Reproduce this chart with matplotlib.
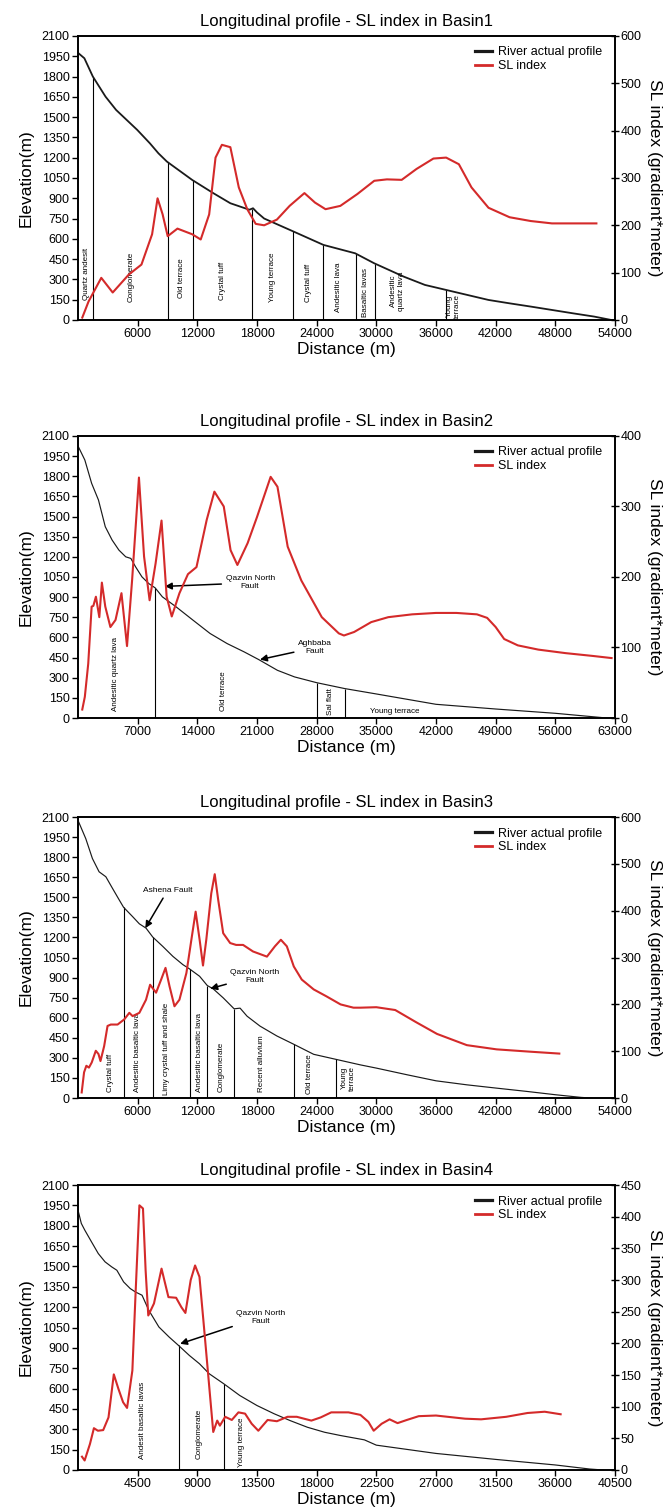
#!/usr/bin/env python3

import numpy as np
import matplotlib
matplotlib.use("Agg")
import matplotlib.pyplot as plt

plt.rcParams["font.family"] = ["Liberation Sans", "DejaVu Sans"]

RED = "#d42a2a"

# ---- Basin 1 ----
b1_dist = [0, 640, 1490, 2770, 3830, 5960, 7230, 8090, 8940, 11490, 13620, 15320,
           17230, 17600, 18000, 18720, 21700, 24680, 27870, 29790, 32770, 34890,
           37020, 39150, 41280, 43400, 45530, 47660, 49790, 51910, 53620]
b1_elev = [1975, 1935, 1800, 1651, 1553, 1405, 1306, 1232, 1171, 1035, 937, 863,
           815, 826, 795, 750, 653, 555, 493, 419, 320, 259,
           222, 185, 148, 123, 99, 74, 49, 25, 0]
b1_sl_x = [430, 1060, 2340, 3490, 5110, 6380, 7450, 8000, 8510, 9020, 10000, 11490,
           12340, 13190, 13830, 14470, 15320, 16170, 17020, 17870, 18720, 20000,
           21280, 22770, 23830, 24890, 26380, 28090, 29790, 31060, 32550, 34040,
           35740, 37020, 38300, 39570, 41280, 43400, 45530, 47660, 49790, 52130]
b1_sl = [5, 39, 89, 58, 96, 117, 181, 257, 223, 177, 193, 181,
         170, 223, 343, 370, 365, 280, 234, 203, 200, 212,
         241, 268, 248, 234, 241, 266, 294, 297, 296, 319,
         341, 343, 329, 280, 237, 217, 209, 204, 204, 204]
b1_bounds = [1490, 9020, 11570, 17530, 21620, 24600, 28000, 29870, 37020]
b1_rocks = ["Quartz andesit", "Conglomerate", "Old terrace", "Crystal tuff",
            "Young terrace", "Crystal tuff", "Andesitic lava", "Basaltic lavas",
            "Andesitic\nquartz lava", "Young\nterrace"]
b1_rock_x = [850, 5300, 10400, 14500, 19600, 23200, 26200, 28950, 32100, 37700]
b1_rock_y = [148, 135, 160, 148, 130, 130, 60, 25, 70, 10]
b1_rock_rot = [90] * 10

# ---- Basin 2 ----
b2_dist = [0, 800, 1600, 2400, 3200, 4000, 4800, 5600, 6200, 6750, 7500, 8300,
           9050, 9900, 11500, 13500, 15500, 17500, 19500, 21200, 23400, 25400,
           28000, 31300, 35000, 42000, 49000, 56000, 61500, 62500]
b2_elev = [2025, 1921, 1747, 1623, 1424, 1325, 1250, 1200, 1188, 1126, 1051, 1001,
           969, 902, 828, 728, 629, 554, 492, 435, 355, 306,
           263, 219, 179, 102, 67, 35, 3, 0]
b2_sl_x = [500, 800, 1200, 1600, 1800, 2100, 2500, 2800, 3200, 3800, 4400, 5100,
           5750, 6350, 7150, 7750, 8400, 9100, 9800, 10400, 11000, 11900, 12900,
           13900, 15100, 16000, 17100, 17900, 18700, 19900, 21000, 22600, 23400,
           24600, 26200, 28600, 30600, 31200, 32400, 34400, 36400, 39200, 42000,
           44400, 46800, 48000, 49000, 50000, 51600, 54000, 57200, 60400, 62600]
b2_sl = [12, 30, 77, 158, 159, 172, 143, 192, 158, 129, 139, 177,
         102, 196, 341, 229, 167, 219, 280, 172, 144, 177, 204,
         214, 281, 321, 300, 238, 217, 248, 285, 342, 328,
         243, 195, 143, 120, 117, 122, 136, 143, 147, 149,
         149, 147, 142, 129, 112, 103, 97, 92, 88, 85]
b2_bounds = [9050, 28000, 31300]
b2_rocks = ["Andesitic quartz lava", "Old terrace", "Sal flatt", "Young terrace"]
b2_rock_x = [4400, 17100, 29650, 37200]
b2_rock_y = [55, 55, 20, 45]
b2_rock_rot = [90, 90, 90, 0]
b2_faults = ["Qazvin North\nFault", "Aghbaba\nFault"]
b2_fault_tip = [(10200, 980), (21350, 435)]
b2_fault_txt = [(20200, 1006), (27800, 524)]

# ---- Basin 3 ----
b3_dist = [0, 780, 1450, 2120, 2800, 3470, 4150, 4580, 5490, 6170, 6840, 7520,
           8530, 9540, 10550, 11220, 12230, 13000, 13600, 14600, 15700, 16300,
           17000, 18300, 20000, 21700, 23700, 25900, 28400, 30000, 33100, 36000,
           39100, 42000, 45100, 48000, 50600, 51700]
b3_elev = [2075, 1939, 1790, 1691, 1654, 1567, 1480, 1426, 1356, 1302, 1270, 1203,
           1133, 1059, 997, 965, 910, 841, 816, 749, 667, 672,
           612, 538, 464, 402, 327, 290, 248, 224, 174, 129,
           99, 75, 50, 25, 5, 0]
b3_sl_x = [370, 610, 840, 1100, 1380, 1790, 2060, 2260, 2630, 2970, 3300, 3980,
           4650, 5160, 5490, 6170, 6840, 7250, 7850, 8360, 8800, 9200, 9700,
           10200, 10900, 11400, 11830, 12230, 12570, 12900, 13400, 13750, 14100,
           14600, 15300, 15900, 16600, 17600, 19000, 19800, 20400, 21000, 21700,
           22500, 23700, 25000, 26400, 27700, 28400, 30000, 31900, 34000, 36100,
           39100, 42100, 45500, 48400]
b3_sl = [12, 55, 69, 65, 76, 101, 94, 79, 111, 154, 157, 157,
         168, 182, 175, 182, 210, 242, 225, 253, 278, 239, 196,
         210, 267, 338, 398, 338, 283, 338, 437, 478, 423,
         352, 331, 327, 327, 313, 302, 324, 338, 324, 281,
         253, 232, 217, 200, 193, 193, 194, 188, 162, 137,
         113, 104, 99, 95]
b3_bounds = [4580, 7520, 11220, 13000, 15700, 21700, 25900]
b3_rocks = ["Crystal tuff", "Andesitic basaltic lava", "Limy crystal tuff and shale",
            "Andesitic basaltic lava", "Conglomerate", "Recent alluvium",
            "Old terrace", "Young\nterrace"]
b3_rock_x = [3300, 6000, 8860, 12170, 14400, 18500, 23300, 27200]
b3_rock_y = [42, 42, 20, 42, 42, 42, 30, 55]
b3_rock_rot = [90] * 8
b3_faults = ["Ashena Fault", "Qazvin North\nFault"]
b3_fault_tip = [(6770, 1270), (13300, 818)]
b3_fault_txt = [(9000, 1550), (17800, 910)]

# ---- Basin 4 ----
b4_dist = [0, 250, 510, 1020, 1530, 2040, 2540, 2930, 3440, 3940, 4330, 4830,
           5340, 6100, 6870, 7580, 8400, 9160, 9900, 11000, 12200, 13500, 14800,
           16000, 17300, 18600, 19800, 21600, 22500, 27000, 31500, 36000, 38600, 39600]
b4_elev = [1915, 1817, 1768, 1681, 1595, 1534, 1497, 1472, 1386, 1337, 1312, 1288,
           1177, 1054, 980, 918, 844, 783, 709, 635, 549, 475, 414,
           364, 315, 278, 254, 222, 183, 122, 78, 37, 7, 0]
b4_sl_x = [300, 500, 900, 1200, 1500, 1900, 2300, 2700, 3050, 3400, 3700, 4100,
           4330, 4630, 4900, 5100, 5300, 5730, 6300, 6820, 7400, 7800, 8100, 8500,
           8830, 9160, 9500, 9900, 10200, 10500, 10700, 11100, 11600, 12100, 12600,
           13100, 13600, 14300, 15000, 15800, 16500, 17600, 18300, 19100, 20400,
           21300, 21900, 22300, 22900, 23500, 24100, 24800, 25700, 27000, 29200,
           30400, 32300, 33900, 35200, 36400]
b4_sl = [21, 15, 41, 66, 62, 63, 83, 151, 128, 107, 98, 157,
         273, 418, 413, 315, 244, 263, 318, 273, 272, 257, 248, 300,
         323, 305, 226, 131, 60, 78, 70, 84, 79, 91, 89,
         73, 62, 79, 77, 84, 84, 78, 83, 91, 91,
         87, 76, 62, 73, 80, 74, 79, 85, 86, 81,
         80, 84, 90, 92, 88]
b4_bounds = [7580, 11000]
b4_rocks = ["Andesit basaltic lavas", "Conglomerate", "Young terrace"]
b4_rock_x = [4830, 9100, 12300]
b4_rock_y = [81, 81, 20]
b4_rock_rot = [90, 90, 90]
b4_faults = ["Qazvin North\nFault"]
b4_fault_tip = [(7700, 930)]
b4_fault_txt = [(13800, 1127)]


def draw(rect, title, dist, elev, sl_x, sl, sl_max, sl_step, x_max, x_step,
         bounds, rocks, rock_x, rock_y, rock_rot,
         faults=(), fault_tip=(), fault_txt=(), prof_lw=0.85):
    ax = fig.add_axes(rect)
    ax2 = ax.twinx()

    h1, = ax.plot(dist, elev, color="#1a1a1a", lw=prof_lw, zorder=3)
    ax.vlines(bounds, 0, np.interp(bounds, dist, elev), color="k", lw=0.8)
    for name, x, y, rot in zip(rocks, rock_x, rock_y, rock_rot):
        ax.text(x, y, name, rotation=rot, ha="center",
                va="bottom" if rot else "center", fontsize=5.8,
                multialignment="center")
    for name, tip, txt in zip(faults, fault_tip, fault_txt):
        ax.annotate(name, xy=tip, xytext=txt, ha="center", va="center",
                    fontsize=6,
                    arrowprops=dict(arrowstyle="-|>", color="k", lw=1.1,
                                    mutation_scale=10, shrinkA=1, shrinkB=0))

    h2, = ax2.plot(sl_x, sl, color=RED, lw=1.5)

    ax.set_xlim(0, x_max)
    ax.set_ylim(0, 2100)
    ax.set_xticks(np.arange(x_step, x_max + 1, x_step))
    ax.set_yticks(np.arange(0, 2101, 150))
    ax2.set_ylim(0, sl_max)
    ax2.set_yticks(np.arange(0, sl_max + 1, sl_step))

    ax.tick_params(direction="out", length=4, width=1, labelsize=9, pad=2)
    ax2.tick_params(direction="inout", length=6, width=1, labelsize=9, pad=1)
    for a in (ax, ax2):
        for s in a.spines.values():
            s.set_linewidth(1.2)

    ax.set_title(title, fontsize=12, pad=7)
    ax.set_xlabel("Distance (m)", fontsize=12.5, labelpad=1)
    ax.set_ylabel("Elevation(m)", fontsize=12.5, labelpad=6)
    ax2.set_ylabel("SL index (gradient*meter)", fontsize=12.5, rotation=270,
                   va="bottom", labelpad=4)

    leg = ax2.legend([h1, h2], ["River actual profile", "SL index"],
                     loc="upper left", bbox_to_anchor=(0.727, 0.985),
                     frameon=False, fontsize=9, borderpad=0, handlelength=1.4,
                     handletextpad=0.5, labelspacing=0.15)
    leg.get_lines()[0].set_linewidth(2.3)
    leg.get_lines()[1].set_linewidth(2.0)


fig = plt.figure(figsize=(6.65, 15.10), dpi=100)
L, W = 0.1173, 0.8075

draw([L, 0.7881, W, 0.1881], "Longitudinal profile - SL index in Basin1",
     b1_dist, b1_elev, b1_sl_x, b1_sl, 600, 100, 54000, 6000,
     b1_bounds, b1_rocks, b1_rock_x, b1_rock_y, b1_rock_rot, prof_lw=1.3)
draw([L, 0.5245, W, 0.1868], "Longitudinal profile - SL index in Basin2",
     b2_dist, b2_elev, b2_sl_x, b2_sl, 400, 100, 63000, 7000,
     b2_bounds, b2_rocks, b2_rock_x, b2_rock_y, b2_rock_rot,
     b2_faults, b2_fault_tip, b2_fault_txt)
draw([L, 0.2728, W, 0.1861], "Longitudinal profile - SL index in Basin3",
     b3_dist, b3_elev, b3_sl_x, b3_sl, 600, 100, 54000, 6000,
     b3_bounds, b3_rocks, b3_rock_x, b3_rock_y, b3_rock_rot,
     b3_faults, b3_fault_tip, b3_fault_txt)
draw([L, 0.0265, W, 0.1887], "Longitudinal profile - SL index in Basin4",
     b4_dist, b4_elev, b4_sl_x, b4_sl, 450, 50, 40500, 4500,
     b4_bounds, b4_rocks, b4_rock_x, b4_rock_y, b4_rock_rot,
     b4_faults, b4_fault_tip, b4_fault_txt)

fig.savefig("out.png", dpi=100)
